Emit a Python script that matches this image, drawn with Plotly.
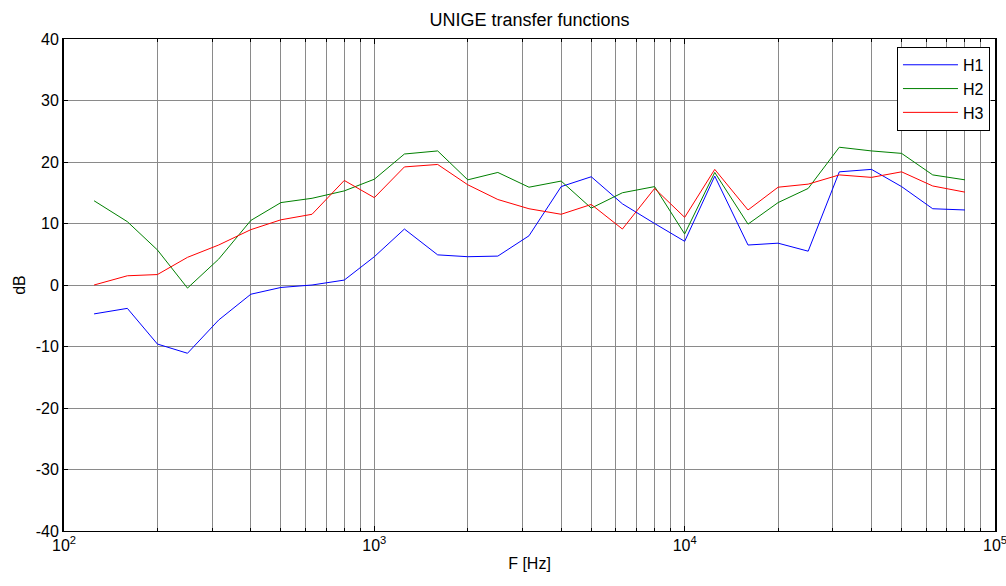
import plotly.graph_objects as go

freqs = [125, 160, 200, 250, 315, 400, 500, 630, 800, 1000, 1250, 1600, 2000, 2500,
         3150, 4000, 5000, 6300, 8000, 10000, 12500, 16000, 20000, 25000, 31500,
         40000, 50000, 63000, 80000]

H1 = [-4.7, -3.8, -9.6, -11.1, -5.7, -1.5, -0.4, 0.0, 0.8, 4.6, 9.1, 4.9, 4.6, 4.7,
      8.0, 16.0, 17.6, 13.2, 10.0, 7.1, 17.7, 6.5, 6.8, 5.5, 18.4, 18.8, 16.0, 12.4, 12.2]
H2 = [13.7, 10.3, 5.7, -0.5, 4.2, 10.5, 13.4, 14.1, 15.3, 17.2, 21.3, 21.8, 17.1, 18.3,
      15.9, 16.9, 12.5, 15.0, 16.0, 8.3, 18.3, 9.9, 13.4, 15.7, 22.4, 21.8, 21.4, 17.9, 17.1]
H3 = [0.0, 1.5, 1.7, 4.5, 6.5, 9.0, 10.6, 11.5, 17.0, 14.2, 19.2, 19.6, 16.3, 13.9,
      12.4, 11.5, 13.1, 9.1, 15.7, 11.0, 18.8, 12.2, 15.9, 16.4, 17.9, 17.5, 18.4, 16.1, 15.1]

series_names = ["H1", "H2", "H3"]
series_colors = ["#0000FF", "#008000", "#FF0000"]

x_tickvals = [100, 1000, 10000, 100000]
x_ticktext = ["10<sup>2</sup>", "10<sup>3</sup>", "10<sup>4</sup>", "10<sup>5</sup>"]
x_minorvals = [m * 10 ** d for d in [2, 3, 4] for m in range(2, 10)]

y_tickvals = [-40, -30, -20, -10, 0, 10, 20, 30, 40]
y_ticktext = [str(v) for v in y_tickvals]

fig = go.Figure()
for name, vals, col in zip(series_names, [H1, H2, H3], series_colors):
    fig.add_trace(go.Scatter(x=freqs, y=vals, mode="lines", name=name,
                             line=dict(color=col, width=1)))

FS = 16
font = dict(family="Liberation Sans, Arial, sans-serif", size=FS, color="black")
grid_col = "#8a8a8a"

fig.update_layout(
    width=1006, height=586,
    margin=dict(l=64, r=11, t=39, b=55),
    paper_bgcolor="white", plot_bgcolor="white",
    font=font,
    title=dict(text="UNIGE transfer functions", x=(64 + 995) / 2 / 1006, xanchor="center",
               y=1 - 20 / 586, yanchor="middle", font=dict(size=18, color="black")),
    showlegend=True,
    legend=dict(x=0.9946, y=0.984, xanchor="right", yanchor="top",
                bgcolor="white", bordercolor="black", borderwidth=1, itemwidth=55,
                font=dict(size=FS, color="black"), tracegroupgap=0),
    xaxis=dict(type="log", range=[2, 5], tickvals=x_tickvals, ticktext=x_ticktext,
               automargin=False, ticklabeloverflow="allow",
               showgrid=True, gridcolor=grid_col, gridwidth=1,
               minor=dict(tickvals=x_minorvals, showgrid=True, gridcolor=grid_col,
                          gridwidth=1, ticks="inside", ticklen=3, tickcolor="black"),
               showline=True, linecolor="black", linewidth=1, mirror="allticks",
               ticks="inside", ticklen=5, tickcolor="black",
               zeroline=False,
               title=dict(text="F [Hz]", standoff=4, font=dict(size=FS, color="black"))),
    yaxis=dict(range=[-40, 40], tickvals=y_tickvals, ticktext=y_ticktext,
               automargin=False,
               showgrid=True, gridcolor=grid_col, gridwidth=1,
               showline=True, linecolor="black", linewidth=2, mirror="allticks",
               ticks="inside", ticklen=4, tickcolor="black",
               zeroline=False,
               title=dict(text="dB", standoff=6, font=dict(size=FS, color="black"))),
)

fig.write_html("out.html", config={"displayModeBar": False},
               post_script="document.body.style.margin='0';document.body.style.overflow='hidden';")
